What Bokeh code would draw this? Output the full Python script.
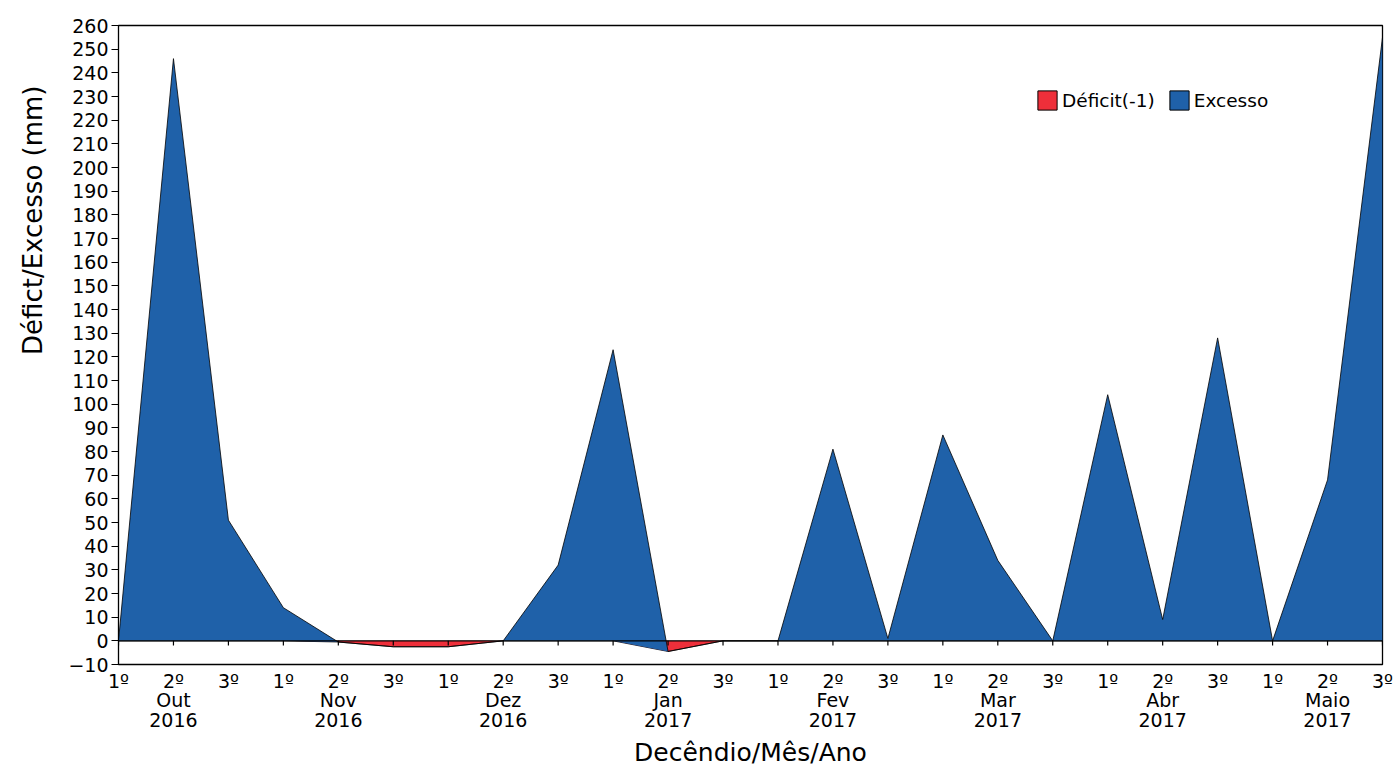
from bokeh.plotting import figure
from bokeh.models import (ColumnDataSource, FixedTicker, Range1d, Legend, LegendItem, Title)
from bokeh.embed import file_html
from bokeh.resources import INLINE

# ---- data ----
decendios = ["1º", "2º", "3º"] * 8
meses = ["Out\n2016", "Nov\n2016", "Dez\n2016", "Jan\n2017",
         "Fev\n2017", "Mar\n2017", "Abr\n2017", "Maio\n2017"]
excesso = [0, 246, 51, 14, 0, 0, 0, 0, 32, 123, 0, 0,
           0, 81, 1, 87, 34, 0, 104, 9, 128, 0, 68, 255]
deficit = [0, 0, 0, 0, -0.5, -2.5, -2.5, 0, 0, 0, -4.5, 0,
           0, 0, 0, 0, 0, 0, 0, 0, 0, 0, 0, 0]
y_ticks = list(range(-10, 261, 10))
y_title = "Défict/Excesso (mm)"

idx = list(range(len(excesso)))
top = [d + e for d, e in zip(deficit, excesso)]
zeros = [0] * len(idx)
tick_end = [-2] * len(idx)

src = ColumnDataSource(dict(x=idx, exc=excesso, dfc=deficit, top=top,
                            zero=zeros, tend=tick_end))

RED = "#EE2F3A"
BLUE = "#1F61A9"
FONT = "DejaVu Sans"

p = figure(width=1395, height=771, output_backend="svg", toolbar_location=None,
           x_range=Range1d(0, 23), y_range=Range1d(-10, 260),
           min_border_left=118, min_border_right=13, min_border_top=25,
           min_border_bottom=107)
p.background_fill_color = "white"
p.border_fill_color = "white"
p.outline_line_color = "black"
p.outline_line_width = 1.3
p.xgrid.visible = False
p.ygrid.visible = False

p.varea(x="x", y1="zero", y2="dfc", source=src, fill_color=RED)
p.line(x="x", y="dfc", source=src, line_color="black", line_width=0.8)
p.varea(x="x", y1="dfc", y2="top", source=src, fill_color=BLUE)
p.line(x="x", y="top", source=src, line_color="black", line_width=0.8)
p.line(x="x", y="zero", source=src, line_color="black", line_width=1.2)
p.segment(x0="x", y0="zero", x1="x", y1="tend", source=src,
          line_color="black", line_width=1.2)

# legend proxies (degenerate quads at the origin)
r_red = p.quad(left=idx[:1], right=idx[:1], top=zeros[:1], bottom=zeros[:1],
               fill_color=RED, line_color="black")
r_blue = p.quad(left=idx[:1], right=idx[:1], top=zeros[:1], bottom=zeros[:1],
                fill_color=BLUE, line_color="black")
legend = Legend(items=[LegendItem(label="Déficit(-1)", renderers=[r_red]),
                       LegendItem(label="Excesso", renderers=[r_blue])],
                orientation="horizontal", location=(917, 552),
                border_line_color=None, background_fill_alpha=0,
                glyph_width=24, glyph_height=24, label_standoff=3, spacing=12,
                padding=0, margin=0,
                label_text_font=FONT, label_text_font_size="18.5px",
                label_text_color="black")
p.add_layout(legend)

# axes
labels = {}
for i in idx:
    lab = decendios[i]
    if i % 3 == 1:
        lab = lab + "\n" + meses[i // 3]
    labels[i] = lab
p.xaxis.ticker = FixedTicker(ticks=idx)
p.xaxis.major_label_overrides = labels
p.xaxis.major_tick_line_color = None
p.xaxis.major_tick_out = 0
p.xaxis.major_tick_in = 0
p.xaxis.minor_tick_line_color = None
p.xaxis.axis_line_color = "black"
p.xaxis.major_label_standoff = 5
p.xaxis.major_label_text_font = FONT
p.xaxis.major_label_text_font_size = "19px"
p.xaxis.major_label_text_line_height = 0.9
p.xaxis.major_label_text_color = "black"
p.xaxis.axis_label = "Decêndio/Mês/Ano"
p.xaxis.axis_label_text_font = FONT
p.xaxis.axis_label_text_font_style = "normal"
p.xaxis.axis_label_text_font_size = "25px"
p.xaxis.axis_label_text_color = "black"
p.xaxis.axis_label_standoff = 4

p.yaxis.ticker = FixedTicker(ticks=y_ticks)
p.yaxis.minor_tick_line_color = None
p.yaxis.major_tick_out = 7
p.yaxis.major_tick_in = 0
p.yaxis.axis_line_color = "black"
p.yaxis.major_label_standoff = 3
p.yaxis.major_label_text_font = FONT
p.yaxis.major_label_text_font_size = "19px"
p.yaxis.major_label_text_color = "black"

ytitle = Title(text=y_title, align="right", offset=60,
               vertical_align="middle",
               text_font=FONT, text_font_size="26px", text_font_style="normal",
               text_color="black", standoff=33)
p.add_layout(ytitle, "left")

open("out.html", "w").write(file_html(p, INLINE))
